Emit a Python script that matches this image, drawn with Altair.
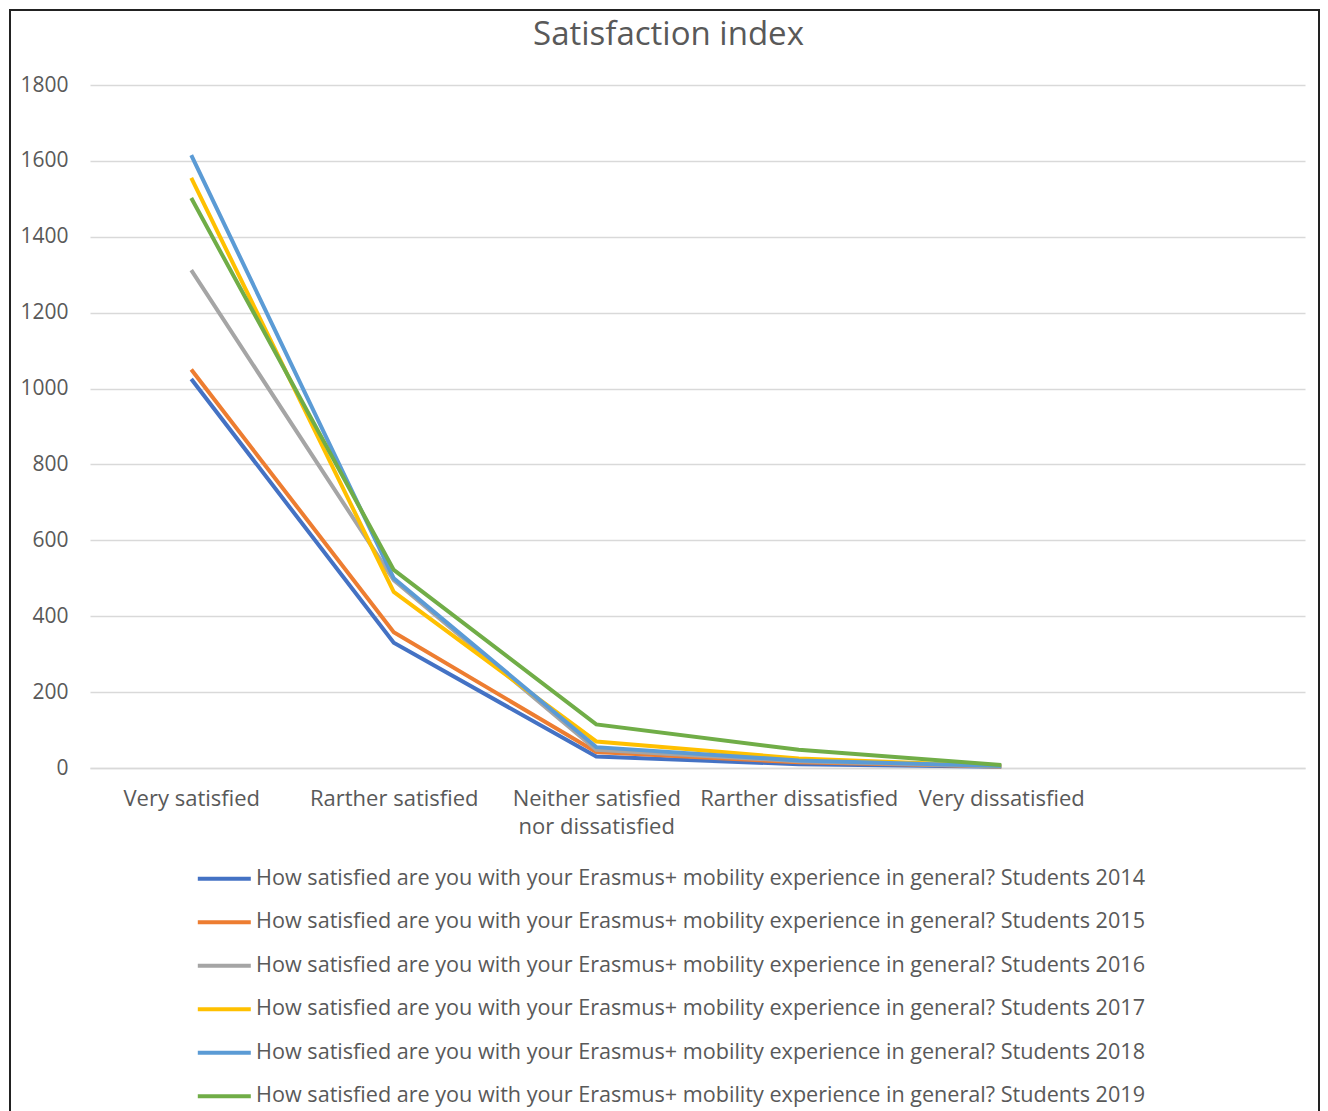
import altair as alt
import pandas as pd

categories = ["Very satisfied", "Rarther satisfied", "Neither satisfied nor dissatisfied",
              "Rarther dissatisfied", "Very dissatisfied"]
question = "How satisfied are you with your Erasmus+ mobility experience in general? Students "
years = ["2014", "2015", "2016", "2017", "2018", "2019"]
s2014 = [1025, 330, 30, 10, 3]
s2015 = [1050, 358, 42, 15, 4]
s2016 = [1312, 495, 48, 18, 4]
s2017 = [1555, 464, 70, 25, 5]
s2018 = [1615, 500, 55, 20, 5]
s2019 = [1502, 522, 115, 48, 8]
series_values = [s2014, s2015, s2016, s2017, s2018, s2019]
colors = ["#4472C4", "#ED7D31", "#A5A5A5", "#FFC000", "#5B9BD5", "#70AD47"]

rows = []
for y, vals in zip(years, series_values):
    for c, v in zip(categories, vals):
        rows.append({"series": question + y, "category": c, "value": v})
df = pd.DataFrame(rows)
series_names = [question + y for y in years]

TXT = "#595959"
FONT = "Open Sans"

lines = alt.Chart(df).mark_line(strokeWidth=4).encode(
    x=alt.X("category:O", sort=categories,
            scale=alt.Scale(type="point", domain=categories + [""], padding=0.5),
            axis=alt.Axis(title=None, labelAngle=0, ticks=False, domain=True,
                          domainColor="#d9d9d9", domainWidth=1.5,
                          labelFontSize=22, labelColor=TXT, labelFont=FONT,
                          labelPadding=20, labelLineHeight=28, labelLimit=0,
                          labelExpr="datum.label == 'Neither satisfied nor dissatisfied' ? ['Neither satisfied', 'nor dissatisfied'] : datum.label")),
    y=alt.Y("value:Q", scale=alt.Scale(domain=[0, 1800], nice=False),
            axis=alt.Axis(title=None, values=list(range(0, 1801, 200)), ticks=False,
                          domain=False, grid=True, gridColor="#d9d9d9", gridWidth=1.5,
                          format="d",
                          labelFontSize=21, labelColor=TXT, labelFont=FONT,
                          labelPadding=22)),
    color=alt.Color("series:N", sort=series_names,
                    scale=alt.Scale(domain=series_names, range=colors),
                    legend=alt.Legend(title=None, orient="none", legendX=105, legendY=783,
                                      direction="vertical", symbolType="M-1,0H5.625",
                                      symbolSize=256, symbolStrokeWidth=4,
                                      labelOffset=39.5, rowPadding=20.5, padding=0,
                                      labelFontSize=21.6, labelColor=TXT, labelFont=FONT,
                                      labelLimit=0)),
    order=alt.Order("cat_idx:Q"),
).transform_calculate(
    cat_idx="indexof(" + str(categories) + ", datum.category)"
)

frame = alt.Chart(alt.Data(values=[{}])).mark_rect(
    filled=False, stroke="#222222", strokeWidth=2
).encode(
    x=alt.value(-80), x2=alt.value(1229), y=alt.value(-75), y2=alt.value(1100)
)

chart = alt.layer(frame, lines).properties(
    width=1215, height=683,
    background="white",
    title=alt.TitleParams("Satisfaction index", fontSize=33, color=TXT, font=FONT,
                          fontWeight="normal", anchor="middle", dx=-29, offset=-69,
                          baseline="alphabetic", frame="group"),
    autosize=alt.AutoSizeParams(type="none"),
    padding={"left": 82, "top": 77, "right": 15, "bottom": 343},
).configure_view(stroke=None)

chart.save("out.html", embed_options={"renderer": "svg", "actions": False})
